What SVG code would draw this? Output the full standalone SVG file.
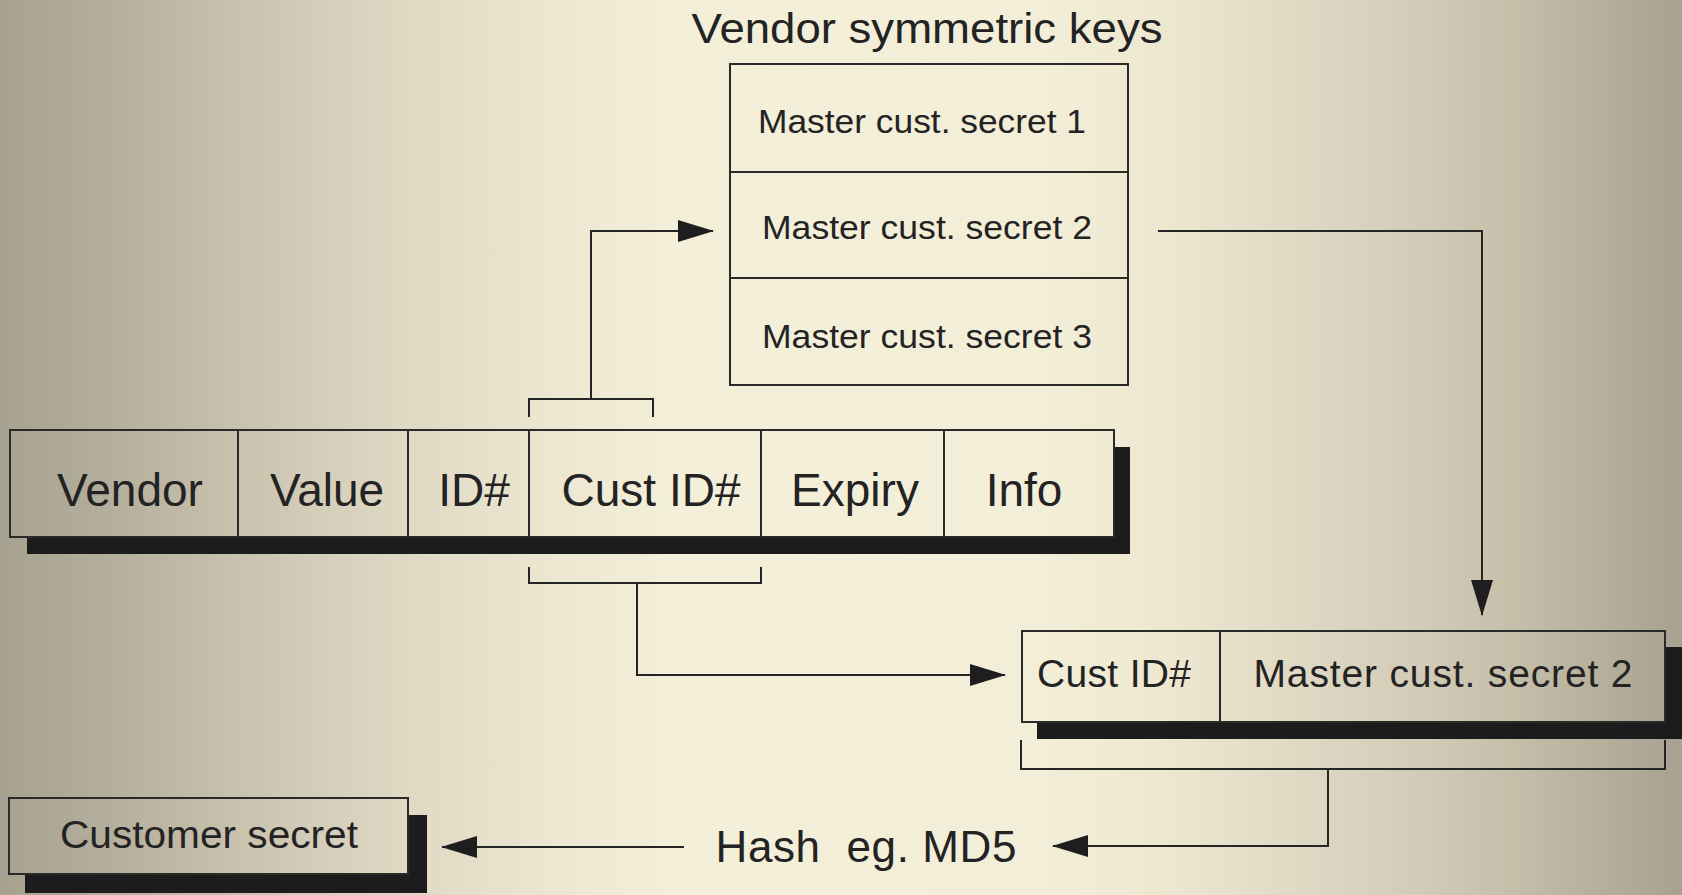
<svg xmlns="http://www.w3.org/2000/svg" width="1682" height="895" viewBox="0 0 1682 895">
<defs>
<linearGradient id="bg" x1="0" y1="0" x2="1" y2="0">
<stop offset="0" stop-color="#a7a190"/>
<stop offset="0.06" stop-color="#b3ad9b"/>
<stop offset="0.12" stop-color="#c3bca8"/>
<stop offset="0.18" stop-color="#d2cbb7"/>
<stop offset="0.24" stop-color="#dfd9c4"/>
<stop offset="0.33" stop-color="#ede7d1"/>
<stop offset="0.4" stop-color="#f4efd9"/>
<stop offset="0.62" stop-color="#f3eed7"/>
<stop offset="0.69" stop-color="#eee8d1"/>
<stop offset="0.77" stop-color="#e0dac5"/>
<stop offset="0.845" stop-color="#d2cbb7"/>
<stop offset="0.9" stop-color="#c5bea9"/>
<stop offset="1" stop-color="#a8a190"/>
</linearGradient>
<marker id="arr" viewBox="0 0 36 22" refX="35" refY="11" markerUnits="userSpaceOnUse" markerWidth="36" markerHeight="22" orient="auto">
<path d="M0,0 L36,11 L0,22 Z" fill="#1e1e1e"/>
</marker>
</defs>
<style>
.box{fill:none;stroke:#2a2a2a;stroke-width:2}
.shadow{fill:#1c1c1c}
.t{font-family:"Liberation Sans",Arial,Helvetica,sans-serif;fill:#232323;text-anchor:middle}
.c{fill:none;stroke:#252525;stroke-width:2}
.a{marker-end:url(#arr)}
</style>
<rect x="0" y="0" width="1682" height="895" fill="url(#bg)"/>

<g id="title">
<text class="t" x="927" y="43" font-size="42" textLength="471" lengthAdjust="spacingAndGlyphs">Vendor symmetric keys</text>
</g>

<g id="vendor-keys">
<rect class="box" x="730" y="64" width="398" height="321"/>
<line class="box" x1="730" y1="172" x2="1128" y2="172"/>
<line class="box" x1="730" y1="278" x2="1128" y2="278"/>
<text class="t" x="922" y="133" font-size="33" textLength="328" lengthAdjust="spacingAndGlyphs">Master cust. secret 1</text>
<text class="t" x="927" y="239" font-size="33" textLength="330" lengthAdjust="spacingAndGlyphs">Master cust. secret 2</text>
<text class="t" x="927" y="348" font-size="33" textLength="330" lengthAdjust="spacingAndGlyphs">Master cust. secret 3</text>
</g>

<g id="licence-record">
<path class="shadow" d="M27,537 H1114 V447 H1130 V554 H27 Z"/>
<rect class="box" x="10" y="430" width="1104" height="107"/>
<line class="box" x1="238" y1="430" x2="238" y2="537"/>
<line class="box" x1="408" y1="430" x2="408" y2="537"/>
<line class="box" x1="529" y1="430" x2="529" y2="537"/>
<line class="box" x1="761" y1="430" x2="761" y2="537"/>
<line class="box" x1="944" y1="430" x2="944" y2="537"/>
<text class="t" x="130" y="506" font-size="46">Vendor</text>
<text class="t" x="327" y="506" font-size="46">Value</text>
<text class="t" x="474" y="506" font-size="46">ID#</text>
<text class="t" x="651" y="506" font-size="46">Cust ID#</text>
<text class="t" x="855" y="506" font-size="46">Expiry</text>
<text class="t" x="1024" y="506" font-size="46">Info</text>
</g>

<g id="hash-input">
<path class="shadow" d="M1037,722 H1665 V647 H1682 V739 H1037 Z"/>
<rect class="box" x="1022" y="631" width="643" height="91"/>
<line class="box" x1="1220" y1="631" x2="1220" y2="722"/>
<text class="t" x="1114" y="687" font-size="39" textLength="154">Cust ID#</text>
<text class="t" x="1443" y="687" font-size="39" textLength="379">Master cust. secret 2</text>
</g>

<g id="customer-secret">
<path class="shadow" d="M25,874 H408 V815 H427 V893 H25 Z"/>
<rect class="box" x="9" y="798" width="399" height="76"/>
<text class="t" x="209" y="848" font-size="38" textLength="298" lengthAdjust="spacingAndGlyphs">Customer secret</text>
</g>

<g id="hash">
<text class="t" x="866" y="862" font-size="44" textLength="301" xml:space="preserve">Hash  eg. MD5</text>
</g>

<g id="connectors">
<path class="c" d="M529,417 V399 H653 V417"/>
<path class="c a" d="M591,399 V231 H713"/>
<path class="c a" d="M1158,231 H1482 V615"/>
<path class="c" d="M529,567 V583 H761 V567"/>
<path class="c a" d="M637,583 V675 H1005"/>
<path class="c" d="M1021,740 V769 H1665 V740"/>
<path class="c a" d="M1328,769 V846 H1053"/>
<path class="c a" d="M684,847 H442"/>
</g>
</svg>
